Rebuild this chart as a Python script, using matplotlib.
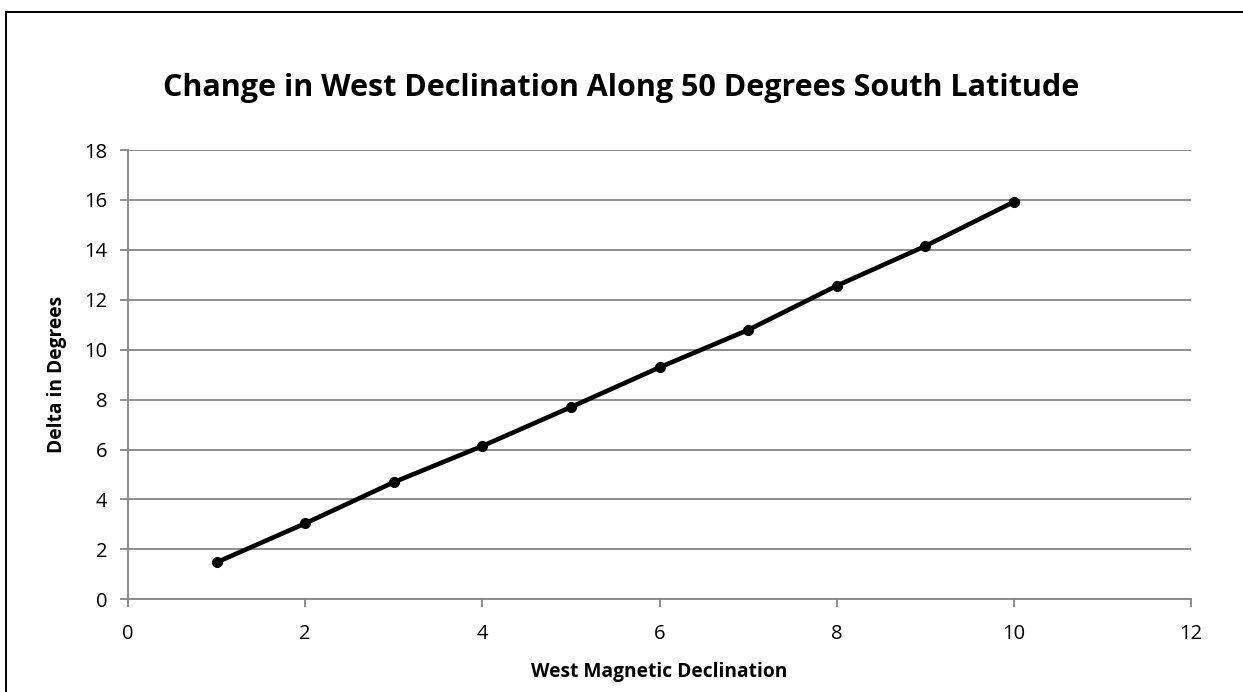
import matplotlib
matplotlib.use("Agg")
import matplotlib.pyplot as plt
from matplotlib.patches import Rectangle

# data
declination = [1, 2, 3, 4, 5, 6, 7, 8, 9, 10]
delta = [1.48, 3.04, 4.69, 6.14, 7.70, 9.29, 10.79, 12.56, 14.15, 15.92]

plt.rcParams["font.family"] = ["Open Sans", "DejaVu Sans"]

W, H = 1243, 692
fig = plt.figure(figsize=(W / 100, H / 100), dpi=100)
ax = fig.add_axes([128 / W, 1 - 599.3 / H, (1191 - 128) / W, (599.3 - 150) / H])

grid_c = "#868686"
ax.plot(declination, delta, "-o", color="black", linewidth=3.3, markersize=7)

ax.set_xlim(0, 12)
ax.set_ylim(0, 18)
ax.set_xticks(range(0, 13, 2))
ax.set_yticks(range(0, 19, 2))
ax.yaxis.grid(True, color=grid_c, linewidth=1.3)
ax.set_axisbelow(True)
for side in ("top", "right"):
    ax.spines[side].set_visible(False)
for side in ("left", "bottom"):
    ax.spines[side].set_color(grid_c)
    ax.spines[side].set_linewidth(1.3)
ax.tick_params(axis="both", direction="out", length=6, width=1.3,
               color=grid_c, labelsize=14.5, labelcolor="black")
ax.tick_params(axis="x", pad=12)
ax.tick_params(axis="y", pad=9)

ax.set_xlabel("West Magnetic Declination", fontsize=13.8, fontweight="bold", labelpad=13)
ax.set_ylabel("Delta in Degrees", fontsize=13.8, fontweight="bold", labelpad=12)
fig.text(0.5, 1 - 88 / H, "Change in West Declination Along 50 Degrees South Latitude",
         ha="center", va="center", fontsize=22, fontweight="bold")

# outer chart border
fig.patches.append(Rectangle((5.5 / W, -0.05), 1.1, 1 - 11.7 / H + 0.05,
                             transform=fig.transFigure, fill=False,
                             edgecolor="black", linewidth=1.4))

fig.savefig("out.png", dpi=100)
